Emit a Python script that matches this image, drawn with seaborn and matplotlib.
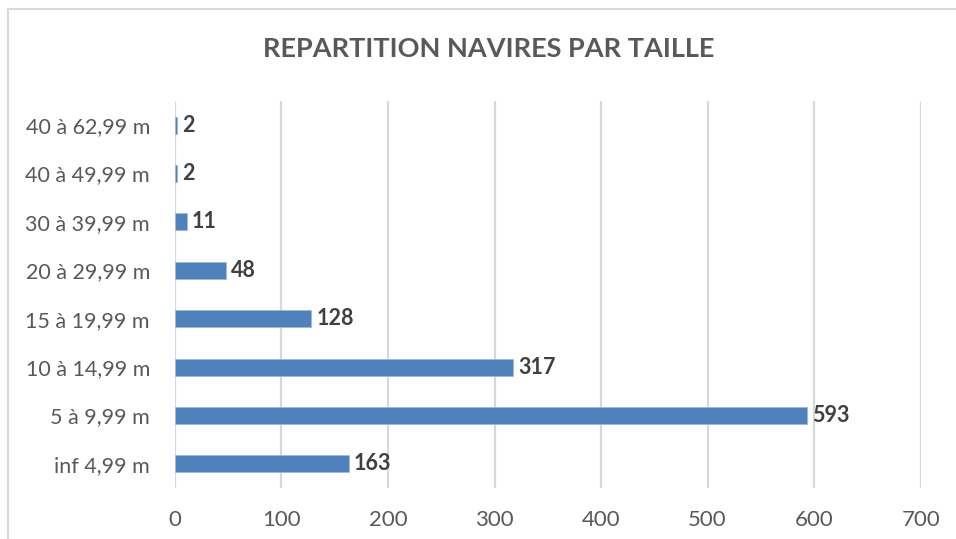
import pandas as pd
import matplotlib.pyplot as plt
import seaborn as sns
from matplotlib.patches import Rectangle

categories = ["40 à 62,99 m", "40 à 49,99 m", "30 à 39,99 m", "20 à 29,99 m",
              "15 à 19,99 m", "10 à 14,99 m", "5 à 9,99 m", "inf 4,99 m"]
counts = [2, 2, 11, 48, 128, 317, 593, 163]
xticks = [0, 100, 200, 300, 400, 500, 600, 700]

df = pd.DataFrame({"Taille": categories, "Navires": counts})

sns.set_style("white")
plt.rcParams["font.family"] = ["Lato", "DejaVu Sans"]

fig = plt.figure(figsize=(9.56, 5.39), dpi=100)
ax = fig.add_axes([0.183, 0.0946, 0.78, 0.718])

sns.barplot(data=df, y="Taille", x="Navires", color="#4F81BD", width=0.35,
            edgecolor="#9DB8DD", linewidth=0.6, saturation=1, ax=ax, zorder=3)

for i, v in enumerate(counts):
    ax.text(v + 5, i, str(v), va="center", ha="left", fontsize=15.5,
            fontweight="bold", color="#404040")

ax.set_xlim(0, 700)
ax.set_ylim(7.5, -0.5)
ax.set_xticks(xticks)
ax.grid(axis="x", color="#D9D9D9", linewidth=1.6, zorder=0)
for s in ax.spines.values():
    s.set_visible(False)
ax.set_xlabel("")
ax.set_ylabel("")
ax.tick_params(axis="both", length=0, labelcolor="#595959")
ax.tick_params(axis="y", labelsize=15.5, pad=18)
ax.tick_params(axis="x", labelsize=16, pad=16)

fig.text(0.511, 0.91, "REPARTITION NAVIRES PAR TAILLE", ha="center", va="center",
         fontsize=19.5, fontweight="bold", color="#595959")

fig.add_artist(Rectangle((8 / 956, -0.1), 1.2, 1 - 8.5 / 539 + 0.1,
                         transform=fig.transFigure, fill=False,
                         edgecolor="#D9D9D9", linewidth=1.5))

plt.savefig("out.png", dpi=100)
